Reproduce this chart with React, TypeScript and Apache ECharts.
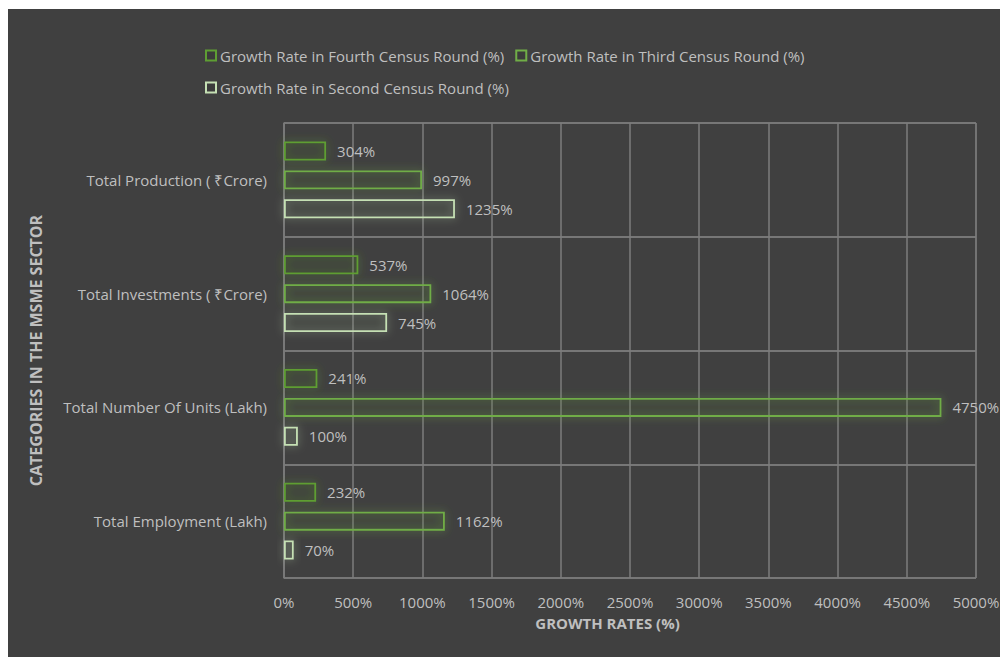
import React, { useEffect, useRef } from "react";
import * as echarts from "echarts";

const categories = [
  "Total Employment (Lakh)",
  "Total Number Of Units (Lakh)",
  "Total Investments ( ₹Crore)",
  "Total Production ( ₹Crore)",
];
const seriesNames = [
  "Growth Rate in Fourth Census Round (%)",
  "Growth Rate in Third Census Round (%)",
  "Growth Rate in Second Census Round (%)",
];
const fourthRound = [232, 241, 537, 304];
const thirdRound = [1162, 4750, 1064, 997];
const secondRound = [70, 100, 745, 1235];
const seriesColors = ["#5e9e33", "#70ad47", "#c5e0b4"];
const glowColors = ["rgba(94,158,51,0.75)", "rgba(112,173,71,0.75)", "rgba(197,224,180,0.6)"];

const FONT = "'Open Sans', sans-serif";
const TEXT = "#bfbfbf";
const FS = 15;

export default function App() {
  const ref = useRef<HTMLDivElement>(null);
  useEffect(() => {
    if (!ref.current) return;
    const chart = echarts.init(ref.current, null, { renderer: "svg" });
    const data = [fourthRound, thirdRound, secondRound];
    chart.setOption({
      animation: false,
      backgroundColor: "#404040",
      textStyle: { fontFamily: FONT },
      legend: {
        left: 193,
        top: 31,
        width: 660,
        itemWidth: 10,
        itemHeight: 10,
        itemGap: 11,
        icon: "rect",
        textStyle: { color: TEXT, fontSize: FS, lineHeight: 21, fontFamily: FONT, padding: [0, 0, 0, -1] },
        data: seriesNames,
      },
      grid: { left: 277, right: 32, top: 114, bottom: 79, containLabel: false, show: true, borderColor: "#6e6e6e", borderWidth: 1 },
      xAxis: {
        type: "value",
        min: 0,
        max: 5000,
        interval: 500,
        name: "GROWTH RATES (%)",
        nameLocation: "middle",
        nameGap: 37,
        nameTextStyle: { color: TEXT, fontSize: FS, fontWeight: "bold", fontFamily: FONT, padding: [0, 45, 0, 0] },
        axisLine: { show: false },
        axisTick: { show: false },
        axisLabel: { color: TEXT, fontSize: FS, margin: 16, formatter: (v: number) => v + "%", fontFamily: FONT },
        splitLine: { show: true, lineStyle: { color: "#7c7c7c", width: 1.5 } },
      },
      yAxis: {
        type: "category",
        data: categories,
        name: "CATEGORIES IN THE MSME SECTOR",
        nameLocation: "middle",
        nameGap: 240,
        nameRotate: 90,
        nameTextStyle: { color: TEXT, fontSize: 16, fontWeight: "bold", fontFamily: FONT },
        axisLine: { show: true, lineStyle: { color: "#7a7a7a", width: 1.5 } },
        axisTick: { show: false },
        axisLabel: { color: TEXT, fontSize: FS, margin: 17, fontFamily: FONT },
        splitLine: { show: true, lineStyle: { color: "#777777", width: 2 } },
      },
      series: seriesNames.map((name, i) => ({
        name,
        type: "bar",
        data: data[i],
        barWidth: 19,
        barGap: "52%",
        itemStyle: {
          color: "rgba(0,0,0,0.07)",
          borderColor: seriesColors[i],
          borderWidth: 1.8,
          shadowBlur: 9,
          shadowColor: glowColors[i],
        },
        label: {
          show: true,
          position: "right",
          distance: 11,
          formatter: "{c}%",
          color: TEXT,
          fontSize: FS,
          fontFamily: FONT,
        },
      })),
    });
    return () => chart.dispose();
  }, []);
  return <div ref={ref} style={{ width: 1001, height: 648, marginLeft: -1, marginTop: 1 }} />;
}
